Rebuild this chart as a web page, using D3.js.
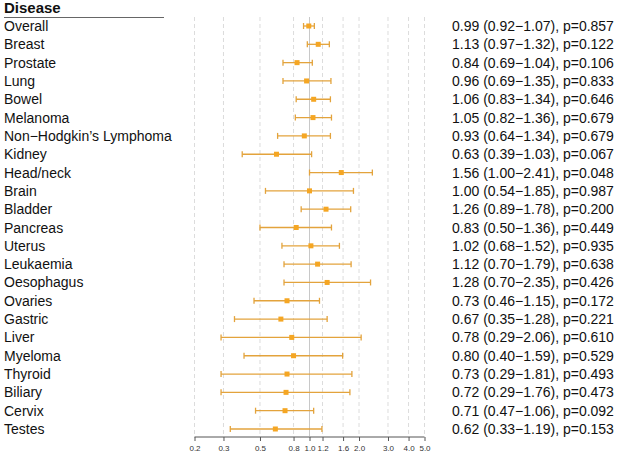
<!DOCTYPE html>
<html>
<head>
<meta charset="utf-8">
<script src="https://cdn.jsdelivr.net/npm/d3@7"></script>
<style>
body{margin:0;background:#fff}
text{font-family:"Liberation Sans",Arial,sans-serif}
</style>
</head>
<body>
<div id="chart"></div>
<script>
var diseases = ["Overall","Breast","Prostate","Lung","Bowel","Melanoma","Non\u2212Hodgkin\u2019s Lymphoma","Kidney","Head/neck","Brain","Bladder","Pancreas","Uterus","Leukaemia","Oesophagus","Ovaries","Gastric","Liver","Myeloma","Thyroid","Biliary","Cervix","Testes"]
var estimates = [0.99,1.13,0.84,0.96,1.06,1.05,0.93,0.63,1.56,1.00,1.26,0.83,1.02,1.12,1.28,0.73,0.67,0.78,0.80,0.73,0.72,0.71,0.62]
var lower = [0.92,0.97,0.69,0.69,0.83,0.82,0.64,0.39,1.00,0.54,0.89,0.50,0.68,0.70,0.70,0.46,0.35,0.29,0.40,0.29,0.29,0.47,0.33]
var upper = [1.07,1.32,1.04,1.35,1.34,1.36,1.34,1.03,2.41,1.85,1.78,1.36,1.52,1.79,2.35,1.15,1.28,2.06,1.59,1.81,1.76,1.06,1.19]
var pvalues = ["0.857","0.122","0.106","0.833","0.646","0.679","0.679","0.067","0.048","0.987","0.200","0.449","0.935","0.638","0.426","0.172","0.221","0.610","0.529","0.493","0.473","0.092","0.153"]
var tickValues = [0.2,0.3,0.5,0.8,1.0,1.2,1.6,2.0,3.0,4.0,5.0]

var w = 617, h = 457
var orange = "#E3A33C"
var svg = d3.select("#chart").append("svg").attr("width",w).attr("height",h)

var x = d3.scaleLog().domain([0.2,5.0]).range([194.5,424.5])
var y = d3.scalePoint().domain(d3.range(diseases.length)).range([26,429])

//grid lines
svg.selectAll(".grid")
    .data(tickValues)
    .enter()
    .append("line")
    .attr("class","grid")
    .attr("x1",function(d){return x(d)})
    .attr("x2",function(d){return x(d)})
    .attr("y1",17)
    .attr("y2",436)
    .attr("stroke",function(d){return d==1 ? "#c8c8c8" : "#dcdcdc"})
    .attr("stroke-width",1)
    .attr("stroke-dasharray",function(d){return d==1 ? null : "4,3"})

//header
svg.append("text").text("Disease").attr("x",4).attr("y",13)
    .attr("font-size",15).attr("font-weight","bold").attr("fill","#111")
svg.append("line").attr("x1",4).attr("x2",164).attr("y1",17.5).attr("y2",17.5)
    .attr("stroke","#666").attr("stroke-width",1)

//row labels
svg.selectAll(".label")
    .data(diseases)
    .enter()
    .append("text")
    .attr("class","label")
    .attr("x",4)
    .attr("y",function(d,i){return y(i)+5})
    .attr("font-size",14)
    .attr("fill","#111")
    .text(function(d){return d})

//error bars
var rows = svg.selectAll(".row")
    .data(d3.range(diseases.length))
    .enter()
    .append("g")
    .attr("class","row")

rows.append("line")
    .attr("x1",function(i){return x(lower[i])})
    .attr("x2",function(i){return x(upper[i])})
    .attr("y1",function(i){return y(i)})
    .attr("y2",function(i){return y(i)})
    .attr("stroke",orange).attr("stroke-width",1.3)
rows.append("line")
    .attr("x1",function(i){return x(lower[i])})
    .attr("x2",function(i){return x(lower[i])})
    .attr("y1",function(i){return y(i)-3})
    .attr("y2",function(i){return y(i)+3})
    .attr("stroke",orange).attr("stroke-width",1.3)
rows.append("line")
    .attr("x1",function(i){return x(upper[i])})
    .attr("x2",function(i){return x(upper[i])})
    .attr("y1",function(i){return y(i)-3})
    .attr("y2",function(i){return y(i)+3})
    .attr("stroke",orange).attr("stroke-width",1.3)
rows.append("rect")
    .attr("x",function(i){return x(estimates[i])-2.5})
    .attr("y",function(i){return y(i)-2.5})
    .attr("width",5).attr("height",5)
    .attr("fill","#F5A623")

//estimate text
svg.selectAll(".est")
    .data(d3.range(diseases.length))
    .enter()
    .append("text")
    .attr("class","est")
    .attr("x",452)
    .attr("y",function(i){return y(i)+5})
    .attr("font-size",14)
    .attr("fill","#111")
    .text(function(i){
        return estimates[i].toFixed(2)+" ("+lower[i].toFixed(2)+"\u2212"+upper[i].toFixed(2)+"), p="+pvalues[i]
    })

//axis
var axis = d3.axisBottom(x).tickValues(tickValues).tickSize(4)
    .tickFormat(function(d){return d.toFixed(1)})
var gAxis = svg.append("g").attr("transform","translate(0,437)").call(axis)
gAxis.select(".domain").attr("stroke","#555").attr("d","M"+x(0.2)+",0H"+x(5.0))
gAxis.selectAll(".tick line").attr("stroke","#555")
gAxis.selectAll(".tick text").attr("font-size",8).attr("fill","#333")
    .attr("font-family","Liberation Sans,Arial,sans-serif").attr("dy","0.9em")
</script>
</body>
</html>
